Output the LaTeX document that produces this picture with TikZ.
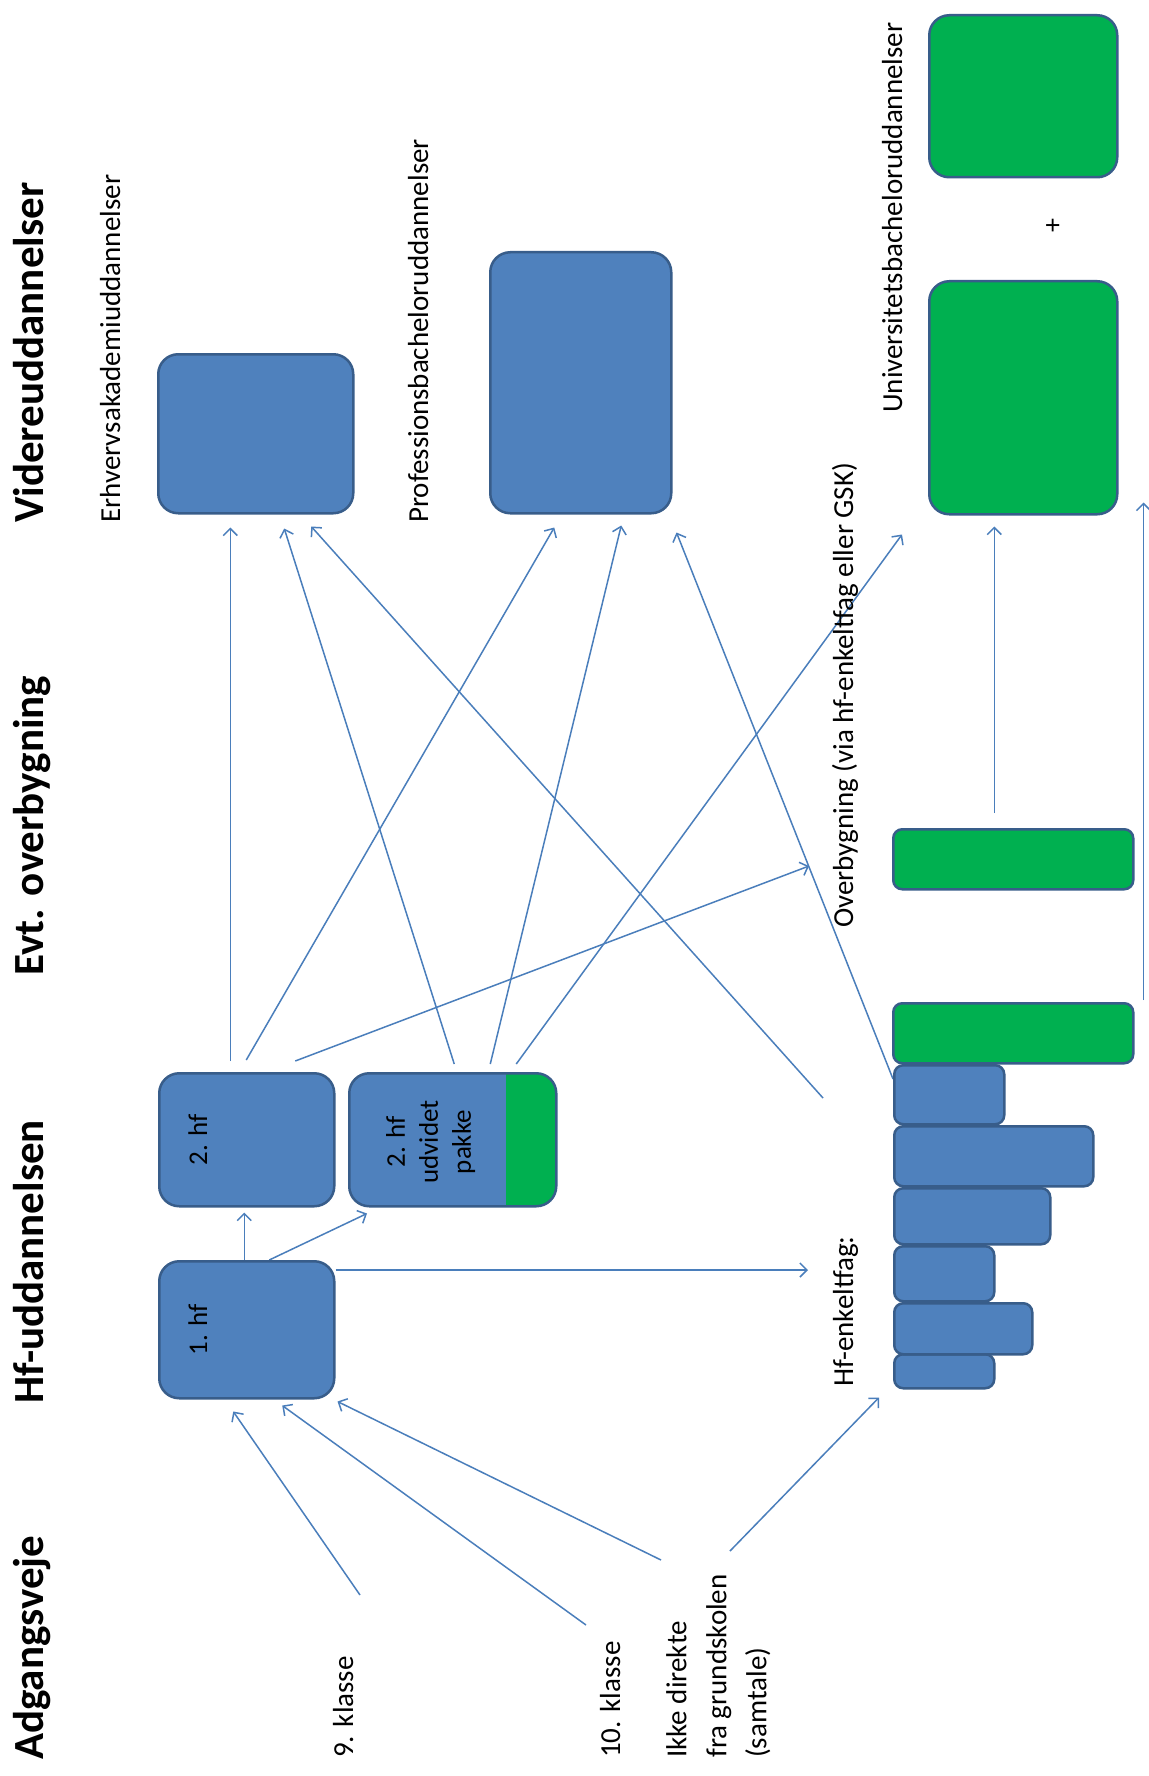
\documentclass[tikz,border=0pt]{standalone}
\usepackage{fontspec}
\setmainfont{Carlito}
\usetikzlibrary{arrows.meta,backgrounds}

\definecolor{boxblue}{HTML}{4F81BD}
\definecolor{kantblue}{HTML}{385D8A}
\definecolor{boxgreen}{HTML}{00B050}
\definecolor{pilblue}{HTML}{4A7EBB}

\newcommand\overskriftfont{\fontsize{43}{50}\selectfont\bfseries}
\newcommand\tekstfont{\fontsize{29}{40}\selectfont}
\newcommand\boksfont{\fontsize{27}{33}\selectfont}

\begin{document}
\begin{tikzpicture}
      [x=1pt,y=-1pt
      ,bluebox/.style={draw=kantblue,fill=boxblue,line width=2.5pt,rounded corners=20pt,inner sep=0pt,anchor=north west}
      ,greenbox/.style={bluebox,fill=boxgreen}
      ,bar/.style={bluebox,rounded corners=9pt}
      ,pil/.style={draw=pilblue,line width=1.5pt,-{Straight Barb[length=7pt,width=14pt]}}
      ,overskrift/.style={rotate=90,anchor=base west,inner sep=0pt,font=\overskriftfont}
      ,tekst/.style={rotate=90,anchor=base west,inner sep=0pt,font=\tekstfont}
      ,bokstekst/.style={rotate=90,anchor=base,inner sep=0pt,font=\boksfont}
      ]
        \useasboundingbox (0,0) rectangle (1148,1776);

        % overskrifter
        \node[overskrift] (hadgang) at (43,1760) {Adgangsveje};
        \node[overskrift] (hhf) at (43,1404) {Hf-uddannelsen};
        \node[overskrift] (hevt) at (43,976) {Evt. overbygning};
        \node[overskrift] (hvidere) at (43,523) {Videreuddannelser};

        \node[tekst] (terhv) at (120,523) {Erhvervsakademiuddannelser};
        \node[tekst] (tprof) at (428,523) {Professionsbacheloruddannelser};
        \node[tekst] (tuni) at (902,413) {Universitetsbacheloruddannelser};
        \node[tekst] (tover) at (853,928) {Overbygning (via hf-enkeltfag eller GSK)};
        \node[tekst] (tenk) at (853,1387) {Hf-enkeltfag:};
        \node[tekst] (t9) at (353,1758) {9. klasse};
        \node[tekst] (t10) at (620,1758) {10. klasse};
        \node[tekst,anchor=north west,align=left] (tikke) at (666,1758) {Ikke direkte\\fra grundskolen\\(samtale)};
        \node[rotate=90,font=\fontsize{28}{28}\selectfont] (plus) at (1054,226) {+};

        % videreuddannelser
        \node[bluebox,minimum width=195pt,minimum height=159pt] (erhv) at (157,353) {};
        \node[bluebox,minimum width=181pt,minimum height=261pt] (prof) at (489,251) {};
        \node[greenbox,minimum width=188pt,minimum height=162pt] (unib) at (928,14) {};
        \node[greenbox,minimum width=188pt,minimum height=233pt] (unia) at (928,280) {};

        % overbygning og enkeltfag
        \node[bar,fill=boxgreen,minimum width=240pt,minimum height=60pt] (ova) at (892,828) {};
        \foreach \i/\ya/\yb/\xb in {6/1353/1387/993,5/1302/1353/1031,4/1245/1300/993,
                                    3/1187/1243/1049,2/1125/1185/1092,1/1064/1123/1003}{
            \node[bar,minimum width={(\xb-893)*1pt},minimum height={(\yb-\ya)*1pt}] (bar\i) at (893,\ya) {};
        }
        \node[bar,fill=boxgreen,minimum width=240pt,minimum height=60pt] (ovb) at (892,1002) {};

        % hf
        \node[bluebox,minimum width=175pt,minimum height=137pt] (hf1) at (158,1260) {};
        \node[bluebox,minimum width=175pt,minimum height=133pt] (hf2) at (158,1072) {};
        \node[bluebox,minimum width=207pt,minimum height=133pt
             ,path picture={\fill[boxgreen,sharp corners] ([xshift=-50pt]path picture bounding box.north east) rectangle (path picture bounding box.south east);}
             ] (hfudv) at (348,1072) {};
        \node[bokstekst] (thf1) at (207,1330) {1. hf};
        \node[bokstekst] (thf2) at (207,1140) {2. hf};
        \node[bokstekst,anchor=north,align=center] (thfudv) at (386,1142) {2. hf\\udvidet\\pakke};

        \coordinate (c9) at (360,1595);
        \coordinate (c10) at (586,1625);
        \coordinate (cikke) at (661,1560);
        \coordinate (cfra) at (730,1551);
        \coordinate (cenkind) at (808,1270);
        \coordinate (cenkud) at (823,1098);
        \coordinate (coverind) at (809,866);

        \begin{scope}[on background layer]
        \fill[white] (0,0) rectangle (1148,1776);
        \draw[pil] (c9) -- ([xshift=-13.5pt,yshift=-12pt]hf1.south);
        \draw[pil] (c10) -- ([xshift=35.5pt,yshift=-6pt]hf1.south);
        \draw[pil] (cikke) -- ([xshift=2pt,yshift=-2pt]hf1.south east);
        \draw[pil] (cfra) -- ([xshift=-14pt,yshift=-8pt]bar6.south west);

        \draw[pil] ([xshift=-2.5pt]hf1.north) -- ([xshift=-2.5pt,yshift=-5pt]hf2.south);
        \draw[pil] ([xshift=22.5pt]hf1.north) -- ([xshift=19pt,yshift=-6pt]hfudv.south west);
        \draw[pil] ([yshift=-10pt]hf1.north east) -- (cenkind);

        \draw[pil] ([xshift=-16.5pt,yshift=11pt]hf2.north) -- ([xshift=-25.5pt,yshift=-13pt]erhv.south);
        \draw[pil] ([xshift=-0.5pt,yshift=12pt]hf2.north) -- ([xshift=-26.5pt,yshift=-13pt]prof.south);
        \draw[pil] ([xshift=48.5pt,yshift=11pt]hf2.north) -- (coverind);

        \draw[pil] ([xshift=1.5pt,yshift=8pt]hfudv.north) -- ([xshift=28.5pt,yshift=-14pt]erhv.south);
        \draw[pil] ([xshift=37.5pt,yshift=8pt]hfudv.north) -- ([xshift=40.5pt,yshift=-11pt]prof.south);
        \draw[pil] ([xshift=63.5pt,yshift=8pt]hfudv.north) -- ([xshift=-26pt,yshift=-19pt]unia.south west);

        \draw[pil] (cenkud) -- ([xshift=55.5pt,yshift=-12pt]erhv.south);
        \draw[pil] ([yshift=-15pt]bar1.north west) -- ([xshift=4pt,yshift=-18pt]prof.south east);
        \draw[pil] ([xshift=-19pt,yshift=15pt]ova.north) -- ([xshift=-29pt,yshift=-11pt]unia.south);
        \draw[pil] ([xshift=9pt,yshift=2pt]ovb.north east) -- ([xshift=25pt,yshift=13pt]unia.south east);
        \end{scope}

      \end{tikzpicture}
\end{document}
